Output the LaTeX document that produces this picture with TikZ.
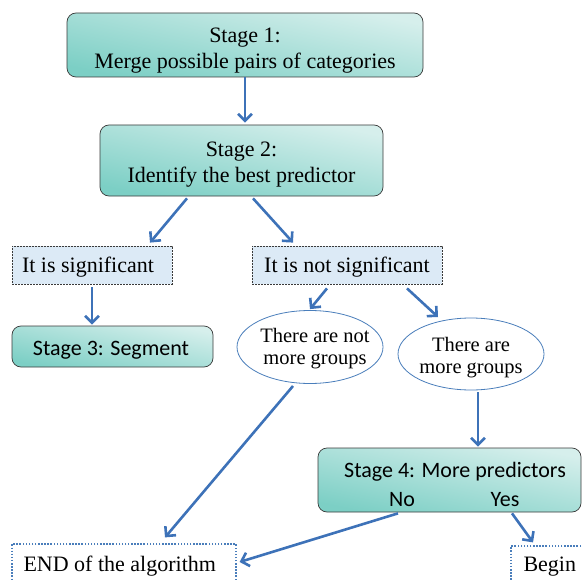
\documentclass[tikz,border=0pt]{standalone}
\usepackage{fontspec}
\setmainfont{Liberation Serif}
\newfontfamily\calib{Carlito}
\usetikzlibrary{arrows.meta,shapes.geometric,calc}
\definecolor{tealdark}{HTML}{7CCFC5}
\definecolor{teallight}{HTML}{D6EFEC}
\definecolor{arrowblue}{HTML}{3D72B8}
\definecolor{boxblue}{HTML}{DCEAF6}
\definecolor{ellblue}{HTML}{4A7EBB}
\definecolor{bordergray}{HTML}{3A3A3A}
\begin{document}
\begin{tikzpicture}[x=1pt,y=-1pt,
  stagebox/.style={draw=bordergray, line width=0.7pt, rounded corners=9pt,
    top color=teallight, bottom color=tealdark, shading angle=-12,
    minimum width=#1, inner sep=0pt},
  sigbox/.style={draw=bordergray, line width=0.8pt, dash pattern=on 2pt off 1pt,
    fill=boxblue, inner sep=0pt, minimum height=38pt},
  ellbox/.style={ellipse, draw=ellblue, line width=0.8pt, fill=white,
    minimum width=146pt, minimum height=73pt, inner sep=0pt},
  endbox/.style={draw=ellblue, line width=1.2pt, dash pattern=on 1.5pt off 1.6pt,
    fill=white, inner sep=0pt},
  flow/.style={draw=arrowblue, line width=2.6pt,
    -{Straight Barb[length=7pt,width=14pt]}},
  serif22/.style={font=\fontsize{22}{26}\selectfont, align=center},
  serif20/.style={font=\fontsize{20.5}{22}\selectfont, align=center},
  sans22/.style={font=\calib\fontsize{22}{26}\selectfont}
]
\useasboundingbox (0,0) rectangle (583,580);
\clip (0,0) rectangle (583,580);

% Boxes
\node[stagebox=356pt, minimum height=64pt] (s1) at (245,45) {};
\node[serif22] (s1t) at (245,51) {Stage 1:\\Merge possible pairs of categories};
\node[stagebox=283pt, minimum height=71pt] (s2) at (241.5,160.5) {};
\node[serif22] (s2t) at (241.5,165) {Stage 2:\\Identify the best predictor};
\node[sigbox, minimum width=160pt] (sig) at (92,265) {};
\node[serif22] (sigt) at (88,267) {It is significant};
\node[sigbox, minimum width=190pt] (nsig) at (347,265) {};
\node[serif22] (nsigt) at (347,267) {It is not significant};
\node[stagebox=201pt, minimum height=41pt] (s3) at (112.5,346.5) {};
\node[sans22] (s3t) at (111,350) {Stage 3: Segment};
\node[ellbox] (e1) at (310,347) {};
\node[serif20] (e1t) at (315,349) {There are not\\more groups};
\node[ellbox, minimum height=72pt] (e2) at (471,354) {};
\node[serif20] (e2t) at (471,358) {There are\\more groups};
\node[stagebox=263pt, minimum height=64pt] (s4) at (449.5,480) {};
\node[sans22] (s4t) at (455,472) {Stage 4: More predictors};
\node[sans22] (s4no) at (402,500) {No};
\node[sans22] (s4yes) at (505,500) {Yes};

% Final boxes (extending past the frame)
\node[endbox, minimum width=224pt, minimum height=60pt] (endb) at (124,574) {};
\node[serif22, anchor=west] (endt) at (20,566) {END of the algorithm};
\node[endbox, minimum width=129pt, minimum height=60pt] (begb) at (575.5,576) {};
\node[serif22, anchor=west] (begt) at (520,567) {Begin};

\coordinate (e2b) at ($(e2.south)+(7,0)$);

% Connectors
\draw[flow] (s1.south) -- ([yshift=2pt]s1.south |- s2.north);
\draw[flow] ([xshift=-54.5pt,yshift=-2pt]s2.south) -- ([xshift=58pt,yshift=3pt]sig.north);
\draw[flow] ([xshift=11.5pt,yshift=-2pt]s2.south) -- ([xshift=-54pt,yshift=3pt]nsig.north);
\draw[flow] ([yshift=-3pt]sig.south) -- ([yshift=1pt]sig.south |- s3.north);
\draw[flow] ([xshift=-20pt,yshift=-4pt]nsig.south) -- ([yshift=1pt]e1.north);
\draw[flow] ([xshift=60pt,yshift=-4pt]nsig.south) -- ($(e2.center)+(-33,-37)$);
\draw[flow] ($(e1.center)+(-17,39)$) -- ($(endb.north)+(41,-6)$);
\draw[flow] ([yshift=-2pt]e2b) -- ([yshift=1pt]e2b |- s4.north);
\draw[flow] ($(s4.south)+(-51.5,1)$) -- ($(endb.east)+(3,-12)$);
\draw[flow] ($(s4.south)+(62.5,1)$) -- ($(begb.north)+(-42.5,-3)$);
\end{tikzpicture}
\end{document}
